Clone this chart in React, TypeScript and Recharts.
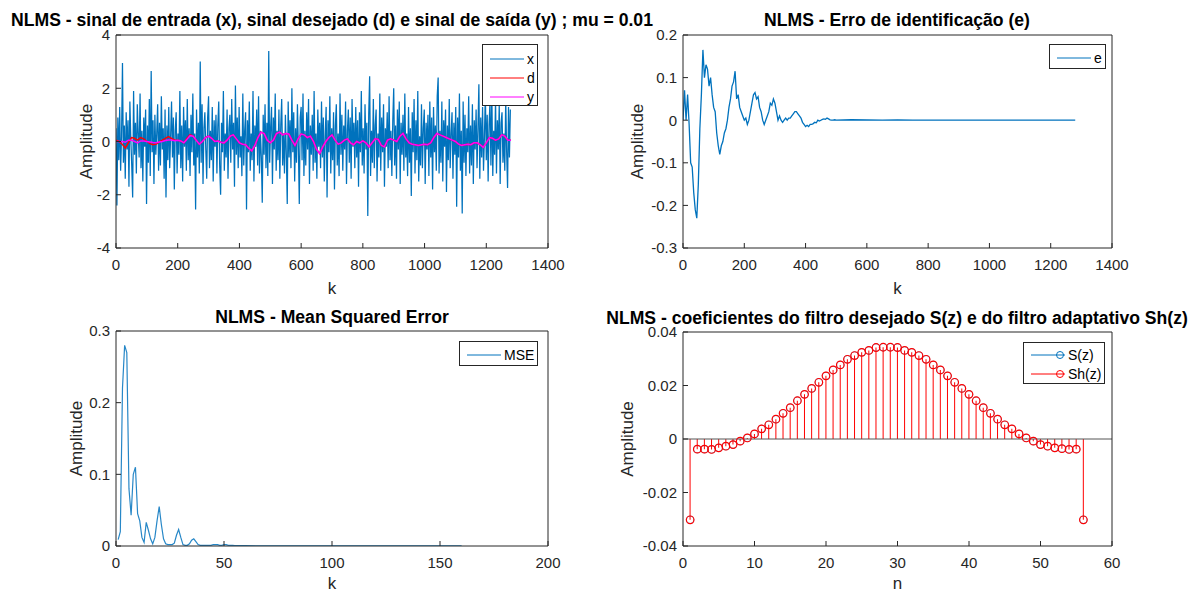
import React from 'react';
import { LineChart, ComposedChart, Line, Bar, XAxis, YAxis, ReferenceLine } from 'recharts';

const FONT = '"Liberation Sans", Arial, Helvetica, sans-serif';
const AXIS = '#262626';
const BLUE = '#0072BD';
const RED = '#FF0000';
const MAGENTA = '#FF00FF';

// sinal de entrada x, lido a cada 3 amostras (k = 0..1278)
const xStep = 3;
const xSignal = [
  0.5, -2.4, 0.9, -0.7, 1.3, -1.1, 0.2, 2.95, -0.8, 0.6, -1.4, 1.1, -0.3, 0.8, -1.7, 1.5, 0.1, -0.9, -2.1, 1.9,
  -0.5, 0.7, -1.2, 1.4, 0.3, -0.6, 1.8, -1.0, 0.4, -1.5, 0.9, -0.2, 1.2, -2.35, 0.6, -0.8, 1.6, -1.3, 2.65, -0.4,
  0.8, -1.6, 1.0, -0.5, 0.3, 1.4, -1.1, 0.7, -0.9, 1.7, -0.3, 0.5, -1.4, 1.2, -2.1, 0.6, -0.7, 1.3, -1.0, 0.2,
  1.5, -0.6, 0.9, -1.8, 0.4, 1.1, -1.2, 0.3, -0.5, 1.9, -1.0, 0.6, -1.5, 1.3, -0.2, 0.8, -1.1, 1.6, -0.7, 0.5,
  -1.3, 1.0, -0.4, 1.8, -0.9, 0.3, -2.55, 1.2, -0.6, 0.7, -1.2, 3.0, -0.8, 1.4, -1.6, 0.5, 1.1, -0.3, -1.4, 0.9,
  1.7, -1.0, 0.4, -0.7, 1.3, -1.5, 0.8, -0.2, 1.0, -1.2, 0.6, 1.5, -0.9, -2.0, 0.7, -0.4, 1.9, -1.1, 0.3, -0.6,
  1.2, -1.4, 0.5, 1.0, -0.8, 1.6, -0.3, 0.7, -1.7, 2.1, -0.5, 0.9, -1.0, 1.3, -0.6, 0.2, -1.3, 1.8, -0.9, 0.4,
  1.1, -2.55, 0.8, -0.4, 1.5, -1.1, 0.3, -0.7, 1.9, -1.5, 0.6, -0.2, 1.2, -0.9, 1.7, -1.2, 0.4, -0.6, -2.3, 1.0,
  -0.5, 1.4, -1.0, 0.7, -1.3, 3.4, -0.8, 0.5, 1.3, -1.6, 0.9, -0.3, 1.8, -1.1, 0.4, -0.7, 1.2, -1.4, 0.6, 1.6,
  -0.9, 0.3, -1.2, 1.0, -0.5, -2.35, 1.5, -0.6, 0.8, -1.0, 2.0, -0.4, 1.1, -1.5, 0.5, -0.8, 1.4, -0.2, -2.35, 0.9,
  1.3, -0.7, 1.8, -1.3, 0.4, -0.9, 1.1, -0.3, 1.6, -1.6, 0.6, -0.5, 1.0, -1.1, 1.9, -0.8, 0.3, -1.4, 1.2, -0.2,
  0.7, -1.0, 1.5, -0.6, 0.9, -1.5, 0.2, 1.3, -2.1, 0.8, -0.4, 1.7, -1.2, 0.5, -0.7, 1.1, -1.8, 0.6, 1.4, -0.9,
  0.3, -1.3, 1.8, -0.5, 1.0, -1.1, 0.6, -0.3, 1.5, -1.6, 0.4, 1.2, -0.8, 0.9, -1.4, 1.6, -0.2, 0.7, -1.0, 1.3,
  -0.6, 0.8, -1.7, 1.1, -0.4, 1.9, -0.9, 0.5, -1.2, 1.4, -0.3, 0.7, -2.8, 1.0, 2.45, -1.3, 0.4, -0.8, 1.6, -1.0,
  0.6, 1.2, -1.5, 0.3, -0.6, 1.8, -1.1, 0.9, -0.4, 1.4, -1.7, 0.5, -0.2, 1.1, -1.0, 1.7, -0.7, 0.4, -1.3, 0.8,
  2.0, -0.9, 0.6, -1.4, 1.2, -0.3, 1.5, -1.6, 0.7, -0.5, 1.0, -1.1, 1.8, -0.6, 0.3, -1.3, 1.3, -0.8, 0.5, -2.05,
  1.1, -0.4, 1.6, -1.2, 0.8, -0.7, 1.9, -1.5, 0.2, -0.9, 1.4, -1.0, 0.5, 1.2, -1.6, 0.7, -0.3, 1.0, -1.3, 1.5,
  -0.6, 0.9, -1.8, 1.3, -0.4, 0.6, -1.1, 1.7, 2.4, -1.2, 0.4, -0.8, 1.5, -1.5, 0.8, -0.2, 1.2, -1.9, 0.6, -0.7,
  1.6, -1.0, 0.3, 1.1, -1.4, 0.7, -0.5, 1.3, -2.45, 0.9, -0.6, 1.8, -1.1, 0.4, -2.7, 1.5, -0.8, 1.0, -1.3, 0.5,
  -0.4, 1.7, -1.2, 0.6, -0.9, 1.4, -1.6, 0.8, -0.3, 1.2, -1.0, 0.5, 2.15, -1.4, 0.9, -0.6, 1.3, -1.1, 0.2, 1.8,
  -0.7, 1.0, -1.5, 0.6, 1.5, -0.9, 1.9, -1.3, 0.4, -0.5, 1.6, -1.2, 0.8, -0.3, 1.4, -1.6, 0.7, 1.1, -0.8, 0.3,
  -1.1, 1.6, -0.4, -1.75, 1.3, -0.6, 1.2,
];

// sinal desejado d e saída y, lidos a cada 10 amostras
const dyStep = 10;
const dSignal = [
  0.05, 0.0, -0.1, -0.25, -0.05, 0.15, 0.12, 0.05, 0.15, 0.1, 0.0, -0.08, -0.12, -0.1, -0.02, 0.05, 0.12, 0.18, 0.12, 0.05,
  0.05, 0.02, -0.05, 0.12, 0.26, 0.2, 0.05, -0.1, 0.0, 0.15, 0.2, 0.12, 0.0, 0.02, -0.03, -0.05, 0.05, 0.2, 0.25, 0.1,
  -0.05, -0.1, -0.12, -0.25, -0.35, -0.15, 0.15, 0.35, 0.3, 0.05, -0.05, 0.05, 0.3, 0.35, 0.25, 0.3, 0.28, 0.05, -0.15, 0.1,
  0.28, 0.25, 0.15, 0.2, 0.0, -0.3, -0.45, -0.2, 0.0, 0.15, 0.25, 0.05, -0.1, -0.05, 0.05, 0.1, -0.05, -0.12, 0.0, -0.05,
  0.02, -0.05, -0.2, -0.05, 0.1, 0.08, -0.15, -0.2, 0.05, 0.1, 0.05, 0.0, 0.2, 0.3, 0.1, -0.05, -0.1, -0.12, -0.15, -0.12,
  -0.1, -0.12, -0.05, 0.15, 0.3, 0.25, 0.2, 0.15, 0.1, 0.05, 0.0, -0.1, -0.15, -0.12, -0.1, -0.12, -0.05, -0.05, -0.12, -0.22,
  -0.05, 0.15, 0.12, 0.05, 0.1, 0.25, 0.2, 0.05, 0.05,
];
const ySignal = [
  0.0, 0.0, 0.0, -0.03, 0.05, 0.05, 0.0, -0.05, 0.02, 0.02, 0.0, -0.02, -0.04, -0.05, -0.02, 0.0, 0.04, 0.06, 0.06, 0.03,
  0.05, 0.02, -0.05, 0.08, 0.22, 0.2, 0.05, -0.1, 0.0, 0.15, 0.2, 0.12, 0.0, 0.02, -0.03, -0.05, 0.05, 0.2, 0.25, 0.1,
  -0.05, -0.1, -0.12, -0.25, -0.35, -0.15, 0.15, 0.35, 0.3, 0.05, -0.05, 0.05, 0.3, 0.35, 0.25, 0.3, 0.28, 0.05, -0.15, 0.1,
  0.28, 0.25, 0.15, 0.2, 0.0, -0.3, -0.45, -0.2, 0.0, 0.15, 0.25, 0.05, -0.1, -0.05, 0.05, 0.1, -0.05, -0.12, 0.0, -0.05,
  0.02, -0.05, -0.2, -0.05, 0.1, 0.08, -0.15, -0.2, 0.05, 0.1, 0.05, 0.0, 0.2, 0.3, 0.1, -0.05, -0.1, -0.12, -0.15, -0.12,
  -0.1, -0.12, -0.05, 0.15, 0.3, 0.25, 0.2, 0.15, 0.1, 0.05, 0.0, -0.1, -0.15, -0.12, -0.1, -0.12, -0.05, -0.05, -0.12, -0.22,
  -0.05, 0.15, 0.12, 0.05, 0.1, 0.25, 0.2, 0.05, 0.05,
];

// erro e: k = 0..500 a cada 5, depois pontos esparsos
const eStep = 5;
const eHead = [
  0.0, 0.07, 0.0, 0.06, -0.01, -0.1, -0.11, -0.17, -0.21, -0.23, -0.15, -0.02, 0.06, 0.165, 0.1, 0.13, 0.12, 0.08, 0.1, 0.06,
  0.03, 0.02, -0.03, -0.06, -0.08, -0.06, -0.05, -0.03, -0.02, 0.0, 0.03, 0.05, 0.08, 0.09, 0.115, 0.05, 0.06, 0.03, 0.02, 0.01,
  0.0, 0.005, -0.01, 0.0, 0.02, 0.04, 0.06, 0.065, 0.05, 0.055, 0.03, 0.02, 0.0, -0.01, 0.0, 0.01, 0.02, 0.04, 0.035, 0.05,
  0.04, 0.02, 0.0, 0.01, 0.0, -0.005, 0.0, 0.005, 0.0, 0.005, 0.005, 0.01, 0.015, 0.02, 0.02, 0.015, 0.01, 0.005, -0.005, -0.01,
  -0.015, -0.012, -0.015, -0.01, -0.01, -0.008, -0.005, -0.006, 0.0, -0.002, 0.0, 0.002, 0.003, 0.002, 0.005, 0.003, 0.001, 0.0, 0.0, 0.001,
  0.0,
];
const eTailK = [550, 600, 650, 700, 750, 800, 850, 900, 950, 1000, 1050, 1100, 1150, 1200, 1250, 1280];
const eTail = [0.001, 0.0005, 0.0, 0.0005, 0.0, 0.0, 0.0003, 0.0, 0.0, 0.0002, 0.0, 0.0, 0.0, 0.0001, 0.0, 0.0];

// MSE: k = 1..56, depois cauda
const mseHead = [
  0.009, 0.02, 0.22, 0.28, 0.27, 0.08, 0.043, 0.1, 0.11, 0.045, 0.035, 0.012, 0.005, 0.033, 0.022, 0.01, 0.003, 0.012, 0.035, 0.055,
  0.03, 0.01, 0.003, 0.002, 0.002, 0.002, 0.004, 0.015, 0.023, 0.012, 0.002, 0.001, 0.001, 0.003, 0.008, 0.01, 0.006, 0.002, 0.001, 0.001,
  0.001, 0.001, 0.001, 0.001, 0.002, 0.002, 0.002, 0.001, 0.001, 0.002, 0.002, 0.001, 0.001, 0.001, 0.0005, 0.0005,
];
const mseTailK = [60, 70, 80, 90, 100, 110, 120, 130, 140, 150, 160];
const mseTail = [0.0004, 0.0003, 0.0003, 0.0002, 0.0002, 0.0002, 0.0002, 0.0002, 0.0002, 0.0002, 0.0002];

// coeficientes S(z) e Sh(z), n = 1..56
const sCoef = [
  -0.0302, -0.0038, -0.0038, -0.0039, -0.0033, -0.0027, -0.0021, -0.0008, 0.0004, 0.0019, 0.0038, 0.0053, 0.0074, 0.0096,
  0.0117, 0.0143, 0.0167, 0.0189, 0.0212, 0.0236, 0.0258, 0.0277, 0.0298, 0.0312, 0.0324, 0.0331, 0.0342, 0.0343,
  0.0343, 0.0342, 0.0331, 0.0324, 0.0312, 0.0298, 0.0277, 0.0258, 0.0236, 0.0212, 0.0189, 0.0167, 0.0143, 0.0117,
  0.0096, 0.0074, 0.0053, 0.0038, 0.0019, 0.0004, -0.0008, -0.0021, -0.0027, -0.0033, -0.0036, -0.0039, -0.0038, -0.0302,
];
const shCoef = [
  -0.0302, -0.0038, -0.0038, -0.0039, -0.0033, -0.0027, -0.0021, -0.0008, 0.0004, 0.0019, 0.0038, 0.0053, 0.0074, 0.0096,
  0.0117, 0.0143, 0.0167, 0.0189, 0.0212, 0.0236, 0.0258, 0.0277, 0.0298, 0.0312, 0.0324, 0.0331, 0.0342, 0.0343,
  0.0343, 0.0342, 0.0331, 0.0324, 0.0312, 0.0298, 0.0277, 0.0258, 0.0236, 0.0212, 0.0189, 0.0167, 0.0143, 0.0117,
  0.0096, 0.0074, 0.0053, 0.0038, 0.0019, 0.0004, -0.0008, -0.0021, -0.0027, -0.0033, -0.0036, -0.0039, -0.0038, -0.0302,
];

const kTicks = [0, 200, 400, 600, 800, 1000, 1200, 1400];
const xyTicks = [-4, -2, 0, 2, 4];
const eTicks = [-0.3, -0.2, -0.1, 0, 0.1, 0.2];
const mseKTicks = [0, 50, 100, 150, 200];
const mseTicks = [0, 0.1, 0.2, 0.3];
const nTicks = [0, 10, 20, 30, 40, 50, 60];
const coefTicks = [-0.04, -0.02, 0, 0.02, 0.04];

const xRows = xSignal.map((v, i) => ({ k: i * xStep, v }));
const dRows = dSignal.map((v, i) => ({ k: i * dyStep, v }));
const yRows = ySignal.map((v, i) => ({ k: i * dyStep, v }));
const eRows = [
  ...eHead.map((v, i) => ({ k: i * eStep, v })),
  ...eTail.map((v, i) => ({ k: eTailK[i], v })),
];
const mseRows = [
  ...mseHead.map((v, i) => ({ k: i + 1, v })),
  ...mseTail.map((v, i) => ({ k: mseTailK[i], v })),
];
const coefRows = sCoef.map((s, i) => ({ n: i + 1, s, sh: shCoef[i] }));

const tickStyle = { fontSize: 15, fill: AXIS };
const labelStyle = { fontSize: 17, fill: AXIS, textAnchor: 'middle' as const };

// eixos espelhados (topo e direita) para fechar a caixa
const frame = (xDom: number[], xTicks: number[], yDom: number[], yTicks: number[]) => [
  <XAxis key="xt" xAxisId="top" orientation="top" type="number" domain={xDom} ticks={xTicks}
    allowDataOverflow height={1} tick={false} tickSize={-5} stroke={AXIS} />,
  <YAxis key="yr" yAxisId="right" orientation="right" type="number" domain={yDom} ticks={yTicks}
    allowDataOverflow width={1} tick={false} tickSize={-5} stroke={AXIS} />,
];

const mainAxes = (
  xKey: string, xDom: number[], xTicks: number[], xLabel: string, xOff: number,
  yDom: number[], yTicks: number[], yWidth: number, yOff: number, xHeight: number,
) => [
  <XAxis key="xb" dataKey={xKey} type="number" domain={xDom} ticks={xTicks} allowDataOverflow
    height={xHeight} tickSize={-5} tickMargin={16} stroke={AXIS} tick={tickStyle}
    label={{ value: xLabel, position: 'insideBottom', offset: xOff, style: labelStyle }} />,
  <YAxis key="yl" type="number" domain={yDom} ticks={yTicks} allowDataOverflow width={yWidth}
    tickSize={-5} tickMargin={11} stroke={AXIS} tick={tickStyle}
    label={{ value: 'Amplitude', angle: -90, position: 'insideLeft', offset: yOff, style: labelStyle }} />,
];

type Item = { label: string; color: string; marker?: boolean };

const LegendBox = ({ left, top, width, height, rows, items }:
  { left: number; top: number; width: number; height: number; rows: number[]; items: Item[] }) => (
  <div style={{
    position: 'absolute', left, top, width, height, boxSizing: 'border-box',
    border: `1px solid ${AXIS}`, background: '#fff',
  }}>
    {items.map((it, i) => (
      <div key={it.label} style={{ position: 'absolute', left: 7, top: rows[i] - 10, height: 20, display: 'flex', alignItems: 'center' }}>
        <svg width={34} height={10} style={{ display: 'block' }}>
          <line x1={0} y1={5} x2={34} y2={5} stroke={it.color} strokeWidth={1} />
          {it.marker && <circle cx={29} cy={5} r={3.5} fill="none" stroke={it.color} strokeWidth={1} />}
        </svg>
        <span style={{ fontSize: 14, marginLeft: 3, color: '#000', lineHeight: '20px' }}>{it.label}</span>
      </div>
    ))}
  </div>
);

const Title = ({ cx, cy, text }: { cx: number; cy: number; text: string }) => (
  <div style={{
    position: 'absolute', left: cx - 400, top: cy - 8, width: 800, textAlign: 'center',
    fontSize: 17.6, fontWeight: 'bold', lineHeight: '16px', whiteSpace: 'nowrap', color: '#000',
  }}>{text}</div>
);

const App: React.FC = () => {
  return (
    <div style={{ position: 'absolute', left: 0, top: 0, width: 1199, height: 593, background: '#fff', fontFamily: FONT }}>
      {/* entrada, desejado e saída */}
      <div style={{ position: 'absolute', left: 0, top: 0 }}>
        <LineChart width={600} height={300} margin={{ top: 34, right: 51, bottom: 0, left: 0 }}>
          {mainAxes('k', [0, 1400], kTicks, 'k', 6, [-4, 4], xyTicks, 116, 86, 52)}
          {frame([0, 1400], kTicks, [-4, 4], xyTicks)}
          <Line data={xRows} dataKey="v" stroke={BLUE} strokeWidth={1.25} dot={false} isAnimationActive={false} />
          <Line data={dRows} dataKey="v" stroke={RED} strokeWidth={1.5} dot={false} isAnimationActive={false} />
          <Line data={yRows} dataKey="v" stroke={MAGENTA} strokeWidth={1.5} dot={false} isAnimationActive={false} />
        </LineChart>
      </div>

      {/* erro de identificação */}
      <div style={{ position: 'absolute', left: 600, top: 0 }}>
        <LineChart width={599} height={300} margin={{ top: 34, right: 86, bottom: 0, left: 0 }}>
          {mainAxes('k', [0, 1400], kTicks, 'k', 6, [-0.3, 0.2], eTicks, 83, 37, 52)}
          {frame([0, 1400], kTicks, [-0.3, 0.2], eTicks)}
          <Line data={eRows} dataKey="v" stroke={BLUE} strokeWidth={1.3} dot={false} isAnimationActive={false} />
        </LineChart>
      </div>

      {/* MSE */}
      <div style={{ position: 'absolute', left: 0, top: 300 }}>
        <LineChart width={600} height={293} margin={{ top: 30, right: 51, bottom: 0, left: 0 }}>
          {mainAxes('k', [0, 200], mseKTicks, 'k', 4, [0, 0.3], mseTicks, 116, 76, 47)}
          {frame([0, 200], mseKTicks, [0, 0.3], mseTicks)}
          <Line data={mseRows} dataKey="v" stroke={BLUE} strokeOpacity={0.85} strokeWidth={1.2} dot={false} isAnimationActive={false} />
        </LineChart>
      </div>

      {/* coeficientes */}
      <div style={{ position: 'absolute', left: 600, top: 300 }}>
        <ComposedChart width={599} height={293} data={coefRows} margin={{ top: 31, right: 86, bottom: 0, left: 0 }}>
          {mainAxes('n', [0, 60], nTicks, 'n', 4, [-0.04, 0.04], coefTicks, 83, 27, 47)}
          {frame([0, 60], nTicks, [-0.04, 0.04], coefTicks)}
          <Bar dataKey="sh" barSize={1} fill={RED} isAnimationActive={false} />
          <ReferenceLine y={0} stroke="#555" strokeWidth={1} />
          <Line dataKey="s" stroke="none" dot={{ r: 3.8, stroke: BLUE, fill: 'none', strokeWidth: 0.5 }} activeDot={false} isAnimationActive={false} />
          <Line dataKey="sh" stroke="none" dot={{ r: 3.8, stroke: RED, fill: 'none', strokeWidth: 1.2 }} activeDot={false} isAnimationActive={false} />
        </ComposedChart>
      </div>

      <Title cx={332} cy={20} text="NLMS - sinal de entrada (x), sinal desejado (d) e sinal de saída (y) ; mu = 0.01" />
      <Title cx={897} cy={20} text="NLMS - Erro de identificação (e)" />
      <Title cx={332} cy={317} text="NLMS - Mean Squared Error" />
      <Title cx={897} cy={318} text="NLMS - coeficientes do filtro desejado S(z) e do filtro adaptativo Sh(z)" />

      <LegendBox left={482} top={44} width={56} height={62} rows={[14, 33, 52]}
        items={[{ label: 'x', color: BLUE }, { label: 'd', color: RED }, { label: 'y', color: MAGENTA }]} />
      <LegendBox left={1049} top={44} width={57} height={25} rows={[13]}
        items={[{ label: 'e', color: BLUE }]} />
      <LegendBox left={459} top={341} width={79} height={25} rows={[13]}
        items={[{ label: 'MSE', color: BLUE }]} />
      <LegendBox left={1023} top={342} width={82} height={42} rows={[12, 31]}
        items={[{ label: 'S(z)', color: BLUE, marker: true }, { label: 'Sh(z)', color: RED, marker: true }]} />
    </div>
  );
};

export default App;
